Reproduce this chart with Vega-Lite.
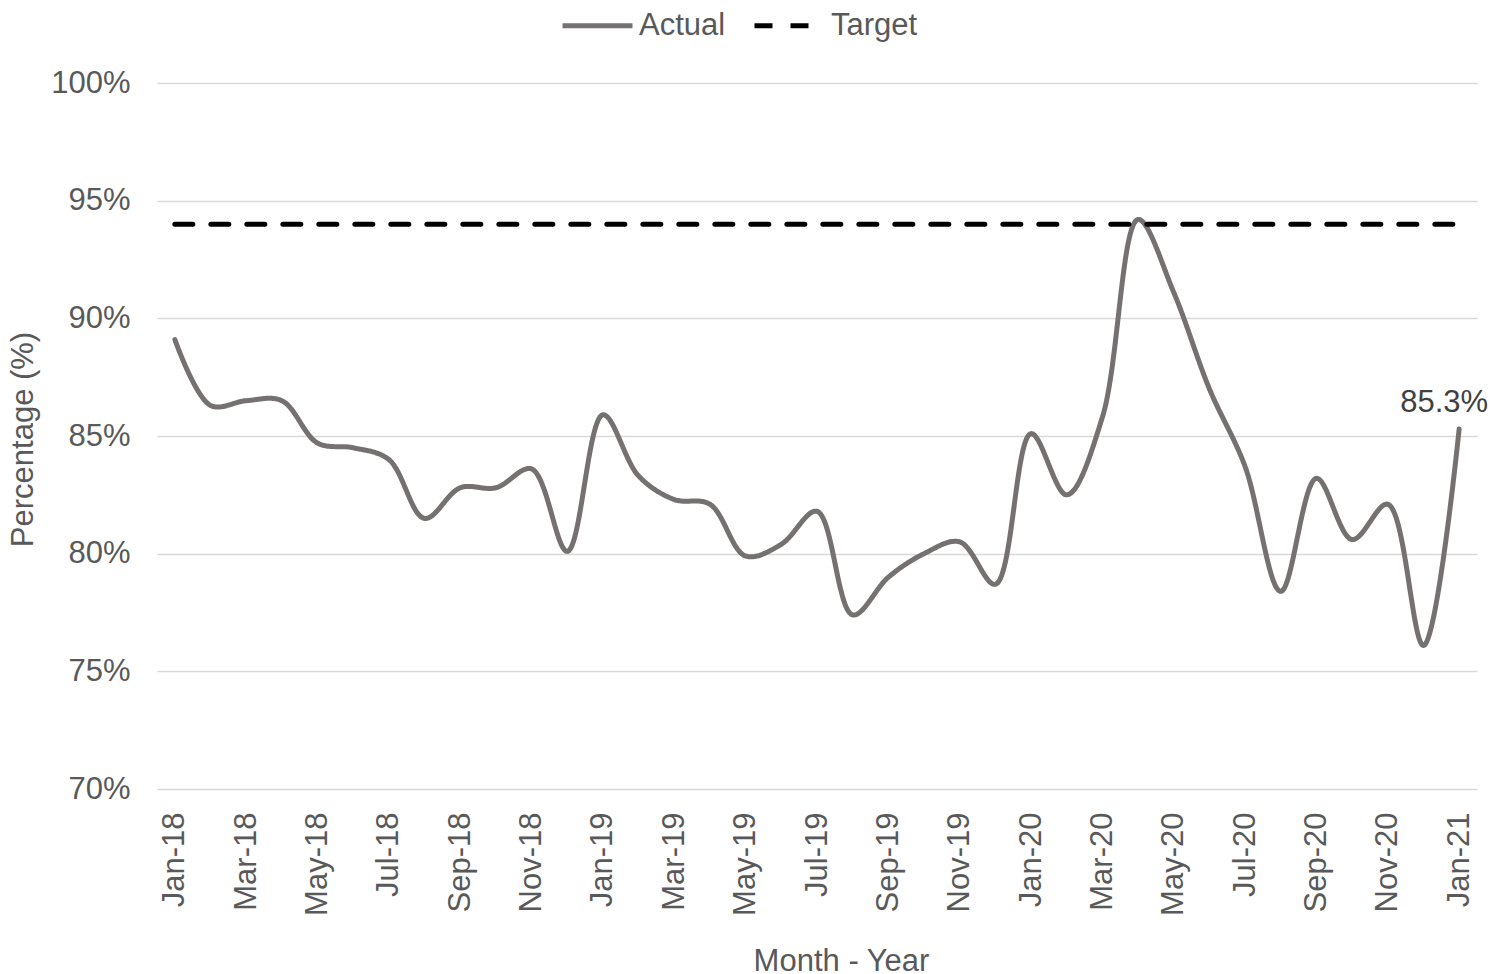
{
  "$schema": "https://vega.github.io/schema/vega-lite/v6.json",
  "width": 1320,
  "height": 706,
  "autosize": {"type": "none"},
  "padding": {"left": 157, "top": 83, "right": 28, "bottom": 185},
  "background": "white",
  "config": {
    "font": "Liberation Sans",
    "view": {"stroke": null}
  },
  "data": {
    "values": [
      {"month": "Jan-18", "series": "Actual", "value": 0.891},
      {"month": "Feb-18", "series": "Actual", "value": 0.863},
      {"month": "Mar-18", "series": "Actual", "value": 0.865},
      {"month": "Apr-18", "series": "Actual", "value": 0.865},
      {"month": "May-18", "series": "Actual", "value": 0.847},
      {"month": "Jun-18", "series": "Actual", "value": 0.845},
      {"month": "Jul-18", "series": "Actual", "value": 0.840},
      {"month": "Aug-18", "series": "Actual", "value": 0.815},
      {"month": "Sep-18", "series": "Actual", "value": 0.828},
      {"month": "Oct-18", "series": "Actual", "value": 0.828},
      {"month": "Nov-18", "series": "Actual", "value": 0.836},
      {"month": "Dec-18", "series": "Actual", "value": 0.801},
      {"month": "Jan-19", "series": "Actual", "value": 0.859},
      {"month": "Feb-19", "series": "Actual", "value": 0.833},
      {"month": "Mar-19", "series": "Actual", "value": 0.823},
      {"month": "Apr-19", "series": "Actual", "value": 0.821},
      {"month": "May-19", "series": "Actual", "value": 0.799},
      {"month": "Jun-19", "series": "Actual", "value": 0.804},
      {"month": "Jul-19", "series": "Actual", "value": 0.818},
      {"month": "Aug-19", "series": "Actual", "value": 0.774},
      {"month": "Sep-19", "series": "Actual", "value": 0.790},
      {"month": "Oct-19", "series": "Actual", "value": 0.800},
      {"month": "Nov-19", "series": "Actual", "value": 0.805},
      {"month": "Dec-19", "series": "Actual", "value": 0.787},
      {"month": "Jan-20", "series": "Actual", "value": 0.851},
      {"month": "Feb-20", "series": "Actual", "value": 0.825},
      {"month": "Mar-20", "series": "Actual", "value": 0.858},
      {"month": "Apr-20", "series": "Actual", "value": 0.942},
      {"month": "May-20", "series": "Actual", "value": 0.911},
      {"month": "Jun-20", "series": "Actual", "value": 0.870},
      {"month": "Jul-20", "series": "Actual", "value": 0.837},
      {"month": "Aug-20", "series": "Actual", "value": 0.784},
      {"month": "Sep-20", "series": "Actual", "value": 0.832},
      {"month": "Oct-20", "series": "Actual", "value": 0.806},
      {"month": "Nov-20", "series": "Actual", "value": 0.821},
      {"month": "Dec-20", "series": "Actual", "value": 0.761},
      {"month": "Jan-21", "series": "Actual", "value": 0.853},
      {"month": "Jan-18", "series": "Target", "value": 0.94},
      {"month": "Jan-21", "series": "Target", "value": 0.94}
    ]
  },
  "encoding": {
    "x": {
      "field": "month",
      "type": "ordinal",
      "sort": null,
      "scale": {"type": "point", "padding": 0.5},
      "axis": {
        "values": ["Jan-18", "Mar-18", "May-18", "Jul-18", "Sep-18", "Nov-18", "Jan-19", "Mar-19", "May-19", "Jul-19", "Sep-19", "Nov-19", "Jan-20", "Mar-20", "May-20", "Jul-20", "Sep-20", "Nov-20", "Jan-21"],
        "labelAngle": 270,
        "labelFontSize": 31,
        "labelColor": "#595959",
        "labelPadding": 23,
        "ticks": false,
        "tickSize": 0,
        "domain": false,
        "grid": false,
        "title": "Month - Year",
        "titleFontSize": 31,
        "titleColor": "#595959",
        "titleFontWeight": "normal",
        "titleX": 684,
        "titleY": 181,
        "titleAlign": "center",
        "titleBaseline": "alphabetic"
      }
    },
    "y": {
      "field": "value",
      "type": "quantitative",
      "scale": {"domain": [0.7, 1.0], "zero": false, "nice": false},
      "axis": {
        "values": [0.7, 0.75, 0.8, 0.85, 0.9, 0.95, 1.0],
        "format": ".0%",
        "labelFontSize": 31,
        "labelColor": "#595959",
        "labelPadding": 27,
        "ticks": false,
        "tickSize": 0,
        "domain": false,
        "grid": true,
        "gridColor": "#d9d9d9",
        "gridWidth": 1.5,
        "title": "Percentage (%)",
        "titleFontSize": 31,
        "titleColor": "#595959",
        "titleFontWeight": "normal",
        "titleAngle": 270,
        "titleX": -125,
        "titleY": 356,
        "titleAlign": "center",
        "titleBaseline": "alphabetic"
      }
    }
  },
  "layer": [
    {
      "mark": {"type": "line", "interpolate": "catmull-rom", "strokeWidth": 5, "strokeCap": "round", "strokeJoin": "round"},
      "encoding": {
        "color": {
          "field": "series",
          "type": "nominal",
          "scale": {"domain": ["Actual", "Target"], "range": ["#767171", "#000000"]},
          "legend": {
            "title": null,
            "orient": "none",
            "direction": "horizontal",
            "legendX": 403,
            "legendY": -95,
            "symbolType": "stroke",
            "symbolSize": 4900,
            "symbolStrokeWidth": 5,
            "labelFontSize": 31,
            "labelColor": "#595959",
            "labelOffset": 4,
            "columnPadding": 18,
            "padding": 0
          }
        },
        "strokeDash": {
          "field": "series",
          "type": "nominal",
          "scale": {"domain": ["Actual", "Target"], "range": [[1, 0], [18, 18]]},
          "legend": {
            "title": null,
            "orient": "none",
            "direction": "horizontal",
            "legendX": 403,
            "legendY": -95,
            "symbolType": "stroke",
            "symbolSize": 4900,
            "symbolStrokeWidth": 5,
            "labelFontSize": 31,
            "labelColor": "#595959",
            "labelOffset": 4,
            "columnPadding": 18,
            "padding": 0
          }
        }
      }
    },
    {
      "transform": [{"filter": "datum.series == 'Actual' && datum.month == 'Jan-21'"}],
      "mark": {"type": "text", "dx": -15, "dy": -17, "fontSize": 31, "color": "#404040", "align": "center", "baseline": "alphabetic"},
      "encoding": {
        "text": {"field": "value", "type": "quantitative", "format": ".1%"}
      }
    }
  ]
}
